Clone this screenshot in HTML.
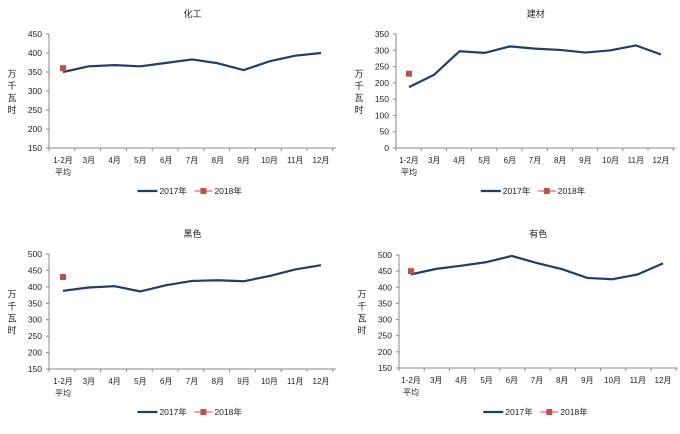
<!DOCTYPE html><html><head><meta charset="utf-8"><style>body{margin:0;background:#fff}svg{display:block}text{font-family:"Liberation Sans","Noto Sans CJK SC",sans-serif;fill:#222}</style></head><body>
<svg id="s" width="680" height="434" xmlns="http://www.w3.org/2000/svg"></svg>
<script>
const P=[
{t:"化工",ax:49,x0:63,x1:321,top:34,bot:148,min:150,max:450,step:50,d:[350,365,368,365,374,383,373,355,378,393,400],p:360,ty:17,ly:191},
{t:"建材",ax:396,x0:409,x1:661,top:34,bot:148,min:0,max:350,step:50,d:[187,225,297,292,312,305,301,293,300,315,287],p:228,ty:17,ly:191},
{t:"黑色",ax:49,x0:63,x1:321,top:254,bot:369,min:150,max:500,step:50,d:[388,398,402,386,405,418,420,417,433,453,466],p:430,ty:237,ly:412},
{t:"有色",ax:399,x0:411,x1:663,top:255,bot:368,min:150,max:500,step:50,d:[440,457,467,478,497,475,456,429,425,440,474],p:450,ty:237,ly:412}];
const cats=["1-2月","3月","4月","5月","6月","7月","8月","9月","10月","11月","12月"];
let h="";
for(const c of P){
 const st=(c.x1-c.x0)/10,right=c.x1+st/2+2,cx=(c.ax+right)/2;
 const Y=v=>c.bot-(v-c.min)/(c.max-c.min)*(c.bot-c.top);
 h+=`<text x="${cx}" y="${c.ty}" font-size="9" text-anchor="middle">${c.t}</text>`;
 h+=`<line x1="${c.ax}" y1="${c.top}" x2="${c.ax}" y2="${c.bot}" stroke="#888" stroke-width="1"/>`;
 h+=`<line x1="${c.ax}" y1="${c.bot}" x2="${right}" y2="${c.bot}" stroke="#888" stroke-width="1"/>`;
 for(let v=c.min;v<=c.max;v+=c.step){const y=Y(v);h+=`<line x1="${c.ax-3}" y1="${y}" x2="${c.ax}" y2="${y}" stroke="#888"/><text x="${c.ax-7}" y="${y+3}" font-size="8.5" text-anchor="end">${v}</text>`;}
 for(let i=0;i<=11;i++){const x=c.ax+i*st;h+=`<line x1="${x}" y1="${c.bot}" x2="${x}" y2="${c.bot+3}" stroke="#888"/>`;}
 cats.forEach((k,i)=>{h+=`<text x="${c.x0+i*st}" y="${c.bot+15}" font-size="8" text-anchor="middle">${k}</text>`});
 h+=`<text x="${c.x0}" y="${c.bot+27}" font-size="8" text-anchor="middle">平均</text>`;
 const my=(c.top+c.bot)/2;
 ["万","千","瓦","时"].forEach((k,i)=>{h+=`<text x="${c.ax-37}" y="${my-14+i*12}" font-size="9" text-anchor="middle">${k}</text>`});
 h+=`<polyline fill="none" stroke="#1f3d6e" stroke-width="2.2" stroke-linejoin="round" points="${c.d.map((v,i)=>(c.x0+i*st)+","+Y(v)).join(" ")}"/>`;
 h+=`<rect x="${c.x0-3}" y="${Y(c.p)-3}" width="6" height="6" fill="#c0504d"/>`;
 const lx=cx-55;
 h+=`<line x1="${lx}" y1="${c.ly}" x2="${lx+20}" y2="${c.ly}" stroke="#1f3d6e" stroke-width="2.2"/><text x="${lx+22}" y="${c.ly+3}" font-size="8.5">2017年</text>`;
 h+=`<line x1="${lx+57}" y1="${c.ly}" x2="${lx+75}" y2="${c.ly}" stroke="#c0504d" stroke-width="1"/><rect x="${lx+63}" y="${c.ly-3}" width="6" height="6" fill="#c0504d"/><text x="${lx+77}" y="${c.ly+3}" font-size="8.5">2018年</text>`;
}
document.getElementById("s").innerHTML=h;
</script></body></html>
